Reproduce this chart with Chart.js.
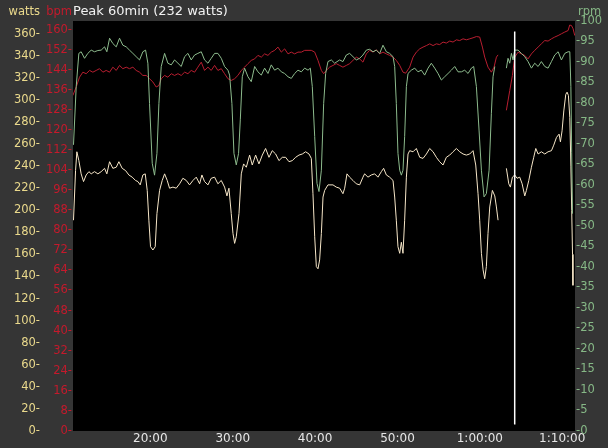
<!DOCTYPE html>
<html><head><meta charset="utf-8">
<script src="https://cdn.jsdelivr.net/npm/chart.js@4/dist/chart.umd.min.js"></script>
<style>html,body{margin:0;padding:0;background:#353535;}canvas{display:block;}</style>
</head><body>
<canvas id="c" width="608" height="448"></canvas>
<script>
const chartTitle = 'Peak 60min (232 watts)';

const xTickValues = [20, 30, 40, 50, 60, 70];
const xTickLabels = ['20:00', '30:00', '40:00', '50:00', '1:00:00', '1:10:00'];
const wattsTicks = [0,20,40,60,80,100,120,140,160,180,200,220,240,260,280,300,320,340,360];
const bpmTicks = [0,8,16,24,32,40,48,56,64,72,80,88,96,104,112,120,128,136,144,152,160];
const rpmTicks = [0,5,10,15,20,25,30,35,40,45,50,55,60,65,70,75,80,85,90,95,100];

const powerMin = [10.67,10.92,11.08,11.32,11.60,11.89,12.21,12.54,12.82,13.22,13.63,14.03,14.44,14.72,15.05,15.45,15.86,16.18,16.58,16.99,17.39,17.80,18.20,18.49,18.77,19.09,19.38,19.62,19.82,20.02,20.31,20.59,20.80,21.12,21.44,21.73,22.05,22.33,22.74,23.14,23.55,23.95,24.36,24.76,25.17,25.57,25.98,26.26,26.58,26.99,27.39,27.80,28.20,28.61,29.01,29.30,29.54,29.82,30.03,30.23,30.43,30.76,31.04,31.32,31.65,32.05,32.37,32.78,33.18,33.59,33.99,34.40,34.80,35.21,35.61,36.02,36.42,36.83,37.23,37.64,38.04,38.45,38.85,39.26,39.54,39.74,39.95,40.15,40.35,40.55,40.76,40.96,41.16,41.56,42.17,42.57,42.98,43.38,43.59,43.87,44.19,44.60,45.00,45.41,45.81,46.01,46.42,46.82,47.23,47.63,48.04,48.32,48.65,49.05,49.46,49.66,49.86,50.06,50.27,50.47,50.67,50.87,51.08,51.28,51.48,51.89,52.29,52.70,53.10,53.51,53.91,54.32,54.72,55.12,55.53,55.93,56.34,56.74,57.15,57.55,57.96,58.36,58.77,59.17,59.50,59.78,59.98,60.19,60.39,60.59,60.79,60.99,61.20,61.52,61.81,62.01,62.21,62.70,63.22,63.51,63.71,63.95,64.23,64.52,64.84,65.13,65.45,65.65,65.94,66.26,66.54,66.79,67.07,67.47,67.88,68.28,68.69,68.97,69.30,69.62,69.78,69.98,70.19,70.43,70.59,70.75,70.92,71.05,71.15,71.25,71.30];
const powerWatts = [191,236,253,245,233,226,232,235,233,235,233,235,238,233,244,238,239,244,238,236,232,230,227,226,223,232,233,218,191,167,164,167,197,218,227,233,227,220,221,220,224,229,227,223,227,230,224,232,226,223,229,230,224,227,221,213,220,197,179,170,176,197,233,242,239,250,241,250,242,250,256,248,254,251,245,248,248,244,245,248,250,251,253,251,247,215,176,149,147,155,179,212,218,223,223,221,220,215,220,233,230,227,224,223,230,233,230,232,233,230,235,238,232,230,227,212,191,167,161,171,161,191,230,251,254,253,256,248,247,251,256,253,248,244,241,248,250,253,256,253,251,250,251,254,241,215,191,161,146,138,149,179,203,218,213,203,191,null,238,224,221,230,232,229,230,224,213,218,227,239,248,256,251,253,251,253,254,259,266,269,262,272,290,305,307,304,284,240,200,160,132];

const hrMin = [10.59,11.00,11.40,11.81,12.21,12.62,13.02,13.43,13.83,14.24,14.64,15.05,15.45,15.86,16.26,16.66,17.07,17.47,17.88,18.28,18.69,19.09,19.50,19.90,20.31,20.71,21.04,21.32,21.73,22.13,22.54,22.94,23.35,23.75,24.16,24.56,24.96,25.37,25.77,26.18,26.58,26.99,27.39,27.80,28.20,28.61,29.01,29.42,29.82,30.23,30.63,31.04,31.44,31.85,32.25,32.66,33.06,33.47,33.87,34.28,34.68,35.09,35.49,35.90,36.30,36.71,37.11,37.52,37.92,38.33,38.73,39.14,39.54,39.95,40.35,40.76,41.04,41.36,41.76,42.17,42.57,42.98,43.38,43.79,44.19,44.60,45.00,45.41,45.81,46.22,46.62,47.03,47.43,47.84,48.24,48.65,49.05,49.46,49.86,50.27,50.67,51.00,51.48,51.89,52.29,52.70,53.10,53.51,53.91,54.32,54.72,55.12,55.53,55.93,56.34,56.74,57.15,57.55,57.96,58.36,58.77,59.17,59.58,59.98,60.31,60.59,60.99,61.40,61.72,62.01,62.21,62.70,63.22,63.63,63.95,64.23,64.64,65.04,65.45,65.85,66.26,66.66,67.07,67.47,67.88,68.28,68.69,69.09,69.50,69.90,70.31,70.71,70.91,71.12,71.32,71.52];
const hrBpm = [133.7,137.1,141.0,143.0,142.4,143.7,143.0,143.7,144.4,143.0,143.7,143.0,145.0,143.7,145.7,144.4,145.0,144.4,145.0,143.7,143.0,141.7,141.7,140.4,139.1,137.1,137.7,140.4,141.7,141.0,142.4,141.7,142.4,141.7,143.0,142.4,143.7,143.0,145.0,147.0,143.7,145.0,143.7,145.7,143.7,144.4,142.4,140.4,139.7,140.4,141.7,143.7,145.0,146.4,147.7,148.3,149.7,149.0,150.3,149.7,151.0,151.7,153.0,151.0,152.3,150.3,151.0,150.3,151.0,151.0,151.7,151.7,151.7,151.0,147.7,143.7,142.4,143.7,145.0,145.7,146.4,145.7,145.0,145.7,146.4,147.7,149.0,148.3,147.0,150.3,151.7,151.0,151.9,150.3,151.0,150.3,149.7,149.0,147.7,145.7,143.0,142.6,145.0,149.0,151.0,152.3,153.0,153.6,154.3,153.6,154.3,154.0,155.0,154.6,155.4,155.0,155.9,155.6,156.3,155.9,156.3,156.7,157.2,157.0,153.0,149.0,145.0,143.0,145.0,149.0,149.9,null,127.8,135.7,141.7,149.0,151.0,150.3,149.7,148.3,150.3,151.7,153.0,154.3,155.6,155.4,156.3,157.0,157.6,158.3,159.0,159.6,161.8,161.6,160.3,157.6];

const cadMin = [10.67,11.00,11.32,11.60,12.01,12.41,12.82,13.22,13.63,14.03,14.44,14.72,15.05,15.45,15.86,16.26,16.66,17.07,17.47,17.88,18.28,18.69,19.09,19.42,19.70,19.90,20.23,20.51,20.80,21.04,21.32,21.73,22.13,22.54,22.94,23.35,23.75,24.16,24.56,24.96,25.37,25.77,26.18,26.58,26.99,27.39,27.80,28.20,28.61,29.01,29.42,29.62,29.90,30.15,30.43,30.71,30.92,31.16,31.44,31.85,32.25,32.66,33.06,33.47,33.87,34.28,34.68,35.09,35.49,35.90,36.30,36.71,37.11,37.52,37.92,38.33,38.73,39.14,39.42,39.66,39.95,40.23,40.47,40.76,41.04,41.28,41.56,41.97,42.37,42.98,43.38,43.79,44.19,44.60,45.00,45.41,45.81,46.22,46.62,47.03,47.43,47.84,48.24,48.65,49.05,49.46,49.66,49.86,50.06,50.27,50.47,50.67,50.87,51.08,51.28,51.68,52.09,52.49,52.90,53.30,53.71,54.11,54.52,54.92,55.33,55.73,56.14,56.54,56.95,57.35,57.76,58.16,58.57,58.97,59.25,59.58,59.90,60.19,60.51,60.79,61.12,61.40,61.60,61.81,62.50,63.22,63.42,63.63,63.83,64.03,64.23,64.64,65.04,65.45,65.85,66.26,66.66,67.07,67.47,67.88,68.28,68.69,69.09,69.50,69.90,70.31,70.71,70.92,71.05,71.15,71.25];
const cadRpm = [69.8,84.0,92.1,92.5,90.9,92.1,92.9,92.5,92.8,92.9,93.7,92.5,95.8,94.5,93.7,95.8,94.1,93.7,92.9,92.1,91.3,90.5,92.5,92.9,89.7,79.9,65.3,62.4,67.7,79.9,88.9,92.1,89.7,89.3,90.5,89.7,88.9,91.3,92.1,90.5,91.7,92.1,92.5,90.5,89.7,90.9,92.1,92.1,90.9,88.9,88.0,86.8,79.9,67.7,64.9,67.7,75.9,86.4,88.5,86.4,85.2,88.9,87.6,86.8,88.5,87.2,89.3,88.0,88.5,87.6,87.2,86.4,86.0,87.2,88.0,87.6,88.5,88.0,88.5,84.0,71.8,60.4,58.4,63.6,79.9,87.2,90.1,90.5,89.7,90.5,90.1,91.7,92.1,91.3,90.5,90.9,91.7,92.9,93.1,92.5,92.9,92.1,94.1,92.5,92.1,91.3,88.9,79.9,67.7,63.6,62.4,63.6,71.8,84.0,87.2,88.0,88.5,87.6,88.0,86.8,88.5,89.7,88.5,87.2,85.6,86.4,87.2,88.0,88.9,87.6,87.6,88.0,87.2,88.5,88.9,84.0,73.4,63.6,57.1,57.9,63.6,77.5,86.4,88.9,null,88.5,90.9,89.7,92.1,90.5,92.9,92.9,92.1,91.3,90.1,88.5,89.7,88.9,90.1,88.9,88.5,90.1,91.7,92.5,90.5,92.1,92.5,92.5,84.0,68.0,53.0];

const markerMin = [64.23, 64.23];
const markerWatts = [362, 6];

const FONT = 'DejaVu Sans';
const toXY = (xs, ys) => xs.map((x, i) => ({x: x, y: ys[i]}));
const fixTicks = arr => scale => { scale.ticks = arr.map(v => ({value: v})); };

const plotBg = {
  id: 'plotBg',
  beforeDraw(chart) {
    const {ctx, chartArea: a} = chart;
    ctx.save();
    ctx.fillStyle = '#000000';
    ctx.fillRect(a.left, a.top, a.right - a.left, a.bottom - a.top);
    ctx.restore();
  }
};
const unitLabels = {
  id: 'unitLabels',
  afterDraw(chart) {
    const ctx = chart.ctx, s = chart.scales;
    ctx.save();
    ctx.font = '11.5px "' + FONT + '"';
    ctx.textBaseline = 'middle';
    ctx.textAlign = 'right';
    ctx.fillStyle = '#ead98c';
    ctx.fillText('watts', s.watts.right - 1, 12);
    ctx.fillStyle = '#c41a2c';
    ctx.fillText('bpm', s.bpm.right - 1, 12);
    ctx.textAlign = 'left';
    ctx.fillStyle = '#86b886';
    ctx.fillText('rpm', s.rpm.left + 3, 12);
    ctx.restore();
  }
};

const yAxis = (pos, weight, min, max, ticksArr, color, fmt, width) => ({
  type: 'linear', position: pos, weight: weight, min: min, max: max,
  afterBuildTicks: fixTicks(ticksArr),
  afterFit: sc => { sc.width = width; },
  grid: {display: false, drawTicks: false},
  border: {display: false},
  ticks: {color: color, font: {family: FONT, size: 11.5}, padding: 1, callback: fmt, autoSkip: false}
});

new Chart(document.getElementById('c'), {
  type: 'line',
  data: {
    datasets: [
      {label: 'marker', data: toXY(markerMin, markerWatts), yAxisID: 'watts', borderColor: '#ffffff', borderWidth: 1.5},
      {label: 'cadence', data: toXY(cadMin, cadRpm), yAxisID: 'rpm', borderColor: '#8dbb8d', borderWidth: 1},
      {label: 'heart rate', data: toXY(hrMin, hrBpm), yAxisID: 'bpm', borderColor: '#b81e30', borderWidth: 1},
      {label: 'power', data: toXY(powerMin, powerWatts), yAxisID: 'watts', borderColor: '#f6e6c8', borderWidth: 1}
    ]
  },
  options: {
    responsive: false,
    animation: false,
    devicePixelRatio: 1,
    spanGaps: false,
    elements: {point: {radius: 0}, line: {tension: 0}},
    layout: {padding: 0},
    plugins: {
      legend: {display: false},
      tooltip: {enabled: false},
      title: {
        display: true, text: chartTitle, align: 'start', fullSize: false,
        color: '#f2f2f2', font: {family: FONT, size: 13, weight: 'normal', lineHeight: 1.2},
        padding: {top: 4, bottom: 1.4}
      }
    },
    scales: {
      x: {
        type: 'linear', position: 'bottom', min: 10.61, max: 71.55,
        afterBuildTicks: fixTicks(xTickValues),
        afterFit: sc => { sc.height = 17; },
        grid: {display: false, drawTicks: false},
        border: {display: false},
        ticks: {
          color: '#e6e6e6', font: {family: FONT, size: 12}, padding: 1, maxRotation: 0, autoSkip: false,
          callback: (v, i) => xTickLabels[i]
        }
      },
      watts: yAxis('left', 2, 0, 371.5, wattsTicks, '#ead98c', v => v + '-', 41),
      bpm: yAxis('left', 1, 0, 163.4, bpmTicks, '#c41a2c', v => v + '-', 32),
      rpm: yAxis('right', 1, 0, 100, rpmTicks, '#86b886', v => '-' + v, 33)
    }
  },
  plugins: [plotBg, unitLabels]
});
</script>
</body></html>
